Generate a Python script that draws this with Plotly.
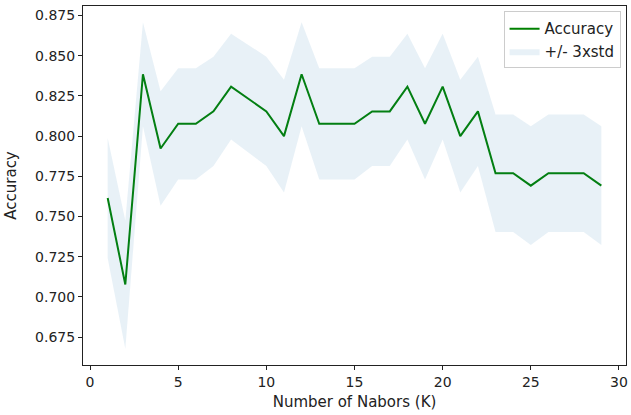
import plotly.graph_objects as go

# Number of neighbours evaluated
k_values = list(range(1, 30))

# Mean accuracy for each K
accuracy = [0.7615, 0.7077, 0.8385, 0.7923, 0.8077, 0.8077, 0.8154, 0.8308,
            0.8231, 0.8154, 0.8000, 0.8385, 0.8077, 0.8077, 0.8077, 0.8154,
            0.8154, 0.8308, 0.8077, 0.8308, 0.8000, 0.8154, 0.7769, 0.7769,
            0.7692, 0.7769, 0.7769, 0.7769, 0.7692]

# Lower / upper edges of the shaded band
band_lower = [0.7241, 0.6678, 0.8062, 0.7567, 0.7731, 0.7731, 0.7814, 0.7979,
              0.7896, 0.7814, 0.7649, 0.8062, 0.7731, 0.7731, 0.7731, 0.7814,
              0.7814, 0.7979, 0.7731, 0.7979, 0.7649, 0.7814, 0.7404, 0.7404,
              0.7323, 0.7404, 0.7404, 0.7404, 0.7323]
band_upper = [0.7989, 0.7476, 0.8708, 0.8279, 0.8423, 0.8423, 0.8494, 0.8637,
              0.8566, 0.8494, 0.8351, 0.8708, 0.8423, 0.8423, 0.8423, 0.8494,
              0.8494, 0.8637, 0.8423, 0.8637, 0.8351, 0.8494, 0.8134, 0.8134,
              0.8062, 0.8134, 0.8134, 0.8134, 0.8062]

x_ticks = [0, 5, 10, 15, 20, 25, 30]
y_ticks = [0.675, 0.700, 0.725, 0.750, 0.775, 0.800, 0.825, 0.850, 0.875]

FONT = "DejaVu Sans"
TICK_FS = 14
LABEL_FS = 15
INK = "#222"

fig = go.Figure()

fig.add_trace(go.Scatter(
    x=k_values, y=accuracy, mode="lines", name="Accuracy",
    line=dict(color="green", width=2),
))
fig.add_trace(go.Scatter(
    x=k_values, y=band_lower, mode="lines", line=dict(width=0),
    showlegend=False, hoverinfo="skip",
))
fig.add_trace(go.Scatter(
    x=k_values, y=band_upper, mode="lines", line=dict(width=0),
    fill="tonexty", fillcolor="rgba(31,119,180,0.1)",
    name="+/- 3xstd", hoverinfo="skip",
))

axis_common = dict(
    showline=True, mirror=True, linecolor=INK, linewidth=1,
    showgrid=False, zeroline=False,
    ticks="outside", ticklen=4, tickcolor=INK, tickwidth=1,
    tickfont=dict(family=FONT, size=TICK_FS, color=INK),
)

fig.update_xaxes(
    range=[-0.4, 30.4], tickvals=x_ticks,
    title=dict(text="Number of Nabors (K)", font=dict(family=FONT, size=LABEL_FS, color=INK), standoff=7),
    **axis_common,
)
fig.update_yaxes(
    range=[0.65765, 0.88095], tickvals=y_ticks, tickformat=".3f",
    title=dict(text="Accuracy", font=dict(family=FONT, size=LABEL_FS, color=INK), standoff=14),
    **axis_common,
)

fig.update_layout(
    width=631, height=415,
    margin=dict(l=83, r=3, t=6, b=50),
    plot_bgcolor="white", paper_bgcolor="white",
    font=dict(family=FONT, size=LABEL_FS, color=INK),
    legend=dict(
        x=0.99, y=0.985, xanchor="right", yanchor="top",
        traceorder="normal",
        bgcolor="rgba(255,255,255,0.8)", bordercolor="#ccc", borderwidth=1,
        font=dict(family=FONT, size=LABEL_FS, color=INK),
        tracegroupgap=0,
    ),
)

fig.write_html("out.html")
